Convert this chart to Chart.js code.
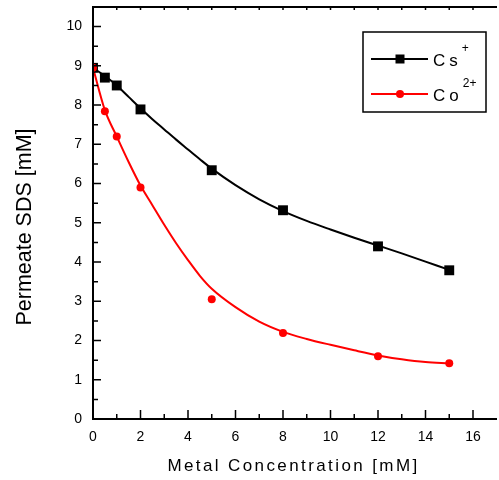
<!DOCTYPE html>
<html>
<head>
<meta charset="utf-8">
<script src="https://cdn.jsdelivr.net/npm/chart.js@4"></script>
<style>
  html, body { margin: 0; padding: 0; background: #fff; overflow: hidden; }
</style>
</head>
<body>
<canvas id="myChart" width="499" height="480"></canvas>
<script>
// measured points
var xVals = [0, 0.5, 1, 2, 5, 8, 12, 15];
var csVals = [8.95, 8.70, 8.50, 7.89, 6.34, 5.32, 4.40, 3.79];
var coVals = [8.95, 7.84, 7.20, 5.90, 3.05, 2.19, 1.60, 1.42];

// fitted curves
var fitX = [0, 0.5, 1, 1.5, 2, 2.5, 3, 3.5, 4, 4.5, 5, 6, 7, 8, 9, 10, 11, 12, 13, 14, 15];
var csFit = [8.95, 8.74, 8.50, 8.21, 7.92, 7.64, 7.38, 7.12, 6.87, 6.62, 6.38, 5.96, 5.60, 5.30, 5.05, 4.83, 4.62, 4.42, 4.22, 4.01, 3.80];
var coFit = [8.95, 7.87, 7.20, 6.55, 5.95, 5.45, 4.95, 4.48, 4.05, 3.65, 3.32, 2.85, 2.48, 2.22, 2.04, 1.89, 1.75, 1.62, 1.52, 1.45, 1.42];

var xTicks = [0, 2, 4, 6, 8, 10, 12, 14, 16];
var yTicks = [0, 1, 2, 3, 4, 5, 6, 7, 8, 9, 10];

function pts(xs, ys) {
    return xs.map(function (x, i) { return { x: x, y: ys[i] }; });
}

var fontFamily = '"Liberation Sans", Arial, sans-serif';

var framePlugin = {
    id: 'frame',
    afterDraw: function (chart) {
        var ctx = chart.ctx;
        var a = chart.chartArea;
        var xs = chart.scales.x, ys = chart.scales.y;
        ctx.save();
        ctx.strokeStyle = '#000';
        ctx.lineWidth = 2;
        ctx.lineCap = 'butt';
        // left, bottom, top lines
        ctx.beginPath();
        ctx.moveTo(a.left, a.top);
        ctx.lineTo(a.left, a.bottom);
        ctx.moveTo(a.left - 1, a.bottom);
        ctx.lineTo(a.right + 5, a.bottom);
        ctx.moveTo(a.left - 1, a.top);
        ctx.lineTo(a.right + 5, a.top);
        ctx.stroke();

        ctx.lineWidth = 1.5;
        ctx.beginPath();
        // y ticks (inward)
        yTicks.forEach(function (v, i) {
            var p = ys.getPixelForValue(v);
            ctx.moveTo(a.left, p); ctx.lineTo(a.left + 8, p);
            var m = ys.getPixelForValue(v + 0.5);
            if (m > a.top) { ctx.moveTo(a.left, m); ctx.lineTo(a.left + 5, m); }
        });
        // x ticks bottom (inward) and top
        xTicks.forEach(function (v) {
            var p = xs.getPixelForValue(v);
            ctx.moveTo(p, a.bottom); ctx.lineTo(p, a.bottom - 9);
            var m = xs.getPixelForValue(v + 1);
            if (m < a.right) { ctx.moveTo(m, a.bottom); ctx.lineTo(m, a.bottom - 5); }
            ctx.moveTo(p, a.top); ctx.lineTo(p, a.top + 3);
            if (m < a.right) { ctx.moveTo(m, a.top); ctx.lineTo(m, a.top + 3); }
        });
        ctx.stroke();

        // axis titles
        ctx.fillStyle = '#000';
        ctx.textAlign = 'center';
        ctx.textBaseline = 'middle';
        ctx.font = '17px ' + fontFamily;
        if ('letterSpacing' in ctx) ctx.letterSpacing = '2.4px';
        ctx.fillText('Metal Concentration [mM]', (a.left + a.right) / 2 + 1, 466);
        if ('letterSpacing' in ctx) ctx.letterSpacing = '0px';
        ctx.save();
        ctx.translate(25, 227);
        ctx.rotate(-Math.PI / 2);
        ctx.font = '21.5px ' + fontFamily;
        ctx.fillText('Permeate SDS [mM]', 0, 0);
        ctx.restore();

        // legend
        ctx.lineWidth = 1.5;
        ctx.strokeRect(363, 32, 123, 80);
        var rows = [
            { y: 59, color: '#000', style: 'rect', main: 'Cs', sup: '+' },
            { y: 94, color: '#ff0000', style: 'circle', main: 'Co', sup: '2+' }
        ];
        rows.forEach(function (r) {
            ctx.strokeStyle = r.color;
            ctx.fillStyle = r.color;
            ctx.lineWidth = 2;
            ctx.beginPath();
            ctx.moveTo(371, r.y); ctx.lineTo(428, r.y);
            ctx.stroke();
            if (r.style === 'rect') {
                ctx.fillRect(395.5, r.y - 4.5, 9, 9);
            } else {
                ctx.beginPath();
                ctx.arc(400, r.y, 4, 0, Math.PI * 2);
                ctx.fill();
            }
            ctx.fillStyle = '#000';
            ctx.textAlign = 'left';
            ctx.textBaseline = 'alphabetic';
            ctx.font = '17px ' + fontFamily;
            if ('letterSpacing' in ctx) ctx.letterSpacing = '4px';
            ctx.fillText(r.main, 433, r.y + 7);
            var w = ctx.measureText(r.main).width;
            ctx.font = '12px ' + fontFamily;
            if ('letterSpacing' in ctx) ctx.letterSpacing = '0px';
            ctx.fillText(r.sup, 433 + w, r.y - 7);
        });
        ctx.restore();
    }
};

var ctx = document.getElementById('myChart').getContext('2d');
var myChart = new Chart(ctx, {
    type: 'scatter',
    data: {
        datasets: [
            {
                label: 'Co2+',
                data: pts(xVals, coVals),
                showLine: false,
                pointStyle: 'circle',
                pointRadius: 4,
                backgroundColor: '#ff0000',
                borderColor: '#ff0000',
                borderWidth: 0,
                order: 0
            },
            {
                label: 'Cs+',
                data: pts(xVals, csVals),
                showLine: false,
                pointStyle: 'rect',
                pointRadius: 7,
                backgroundColor: '#000',
                borderColor: '#000',
                borderWidth: 0,
                order: 1
            },
            {
                label: 'Co2+ fit',
                data: pts(fitX, coFit),
                showLine: true,
                pointRadius: 0,
                borderColor: '#ff0000',
                borderWidth: 2,
                cubicInterpolationMode: 'monotone',
                order: 2
            },
            {
                label: 'Cs+ fit',
                data: pts(fitX, csFit),
                showLine: true,
                pointRadius: 0,
                borderColor: '#000',
                borderWidth: 2,
                cubicInterpolationMode: 'monotone',
                order: 3
            }
        ]
    },
    options: {
        responsive: false,
        animation: false,
        devicePixelRatio: 1,
        layout: { padding: { top: 6, right: 0, left: 0, bottom: 0 } },
        plugins: {
            legend: { display: false },
            tooltip: { enabled: false }
        },
        scales: {
            x: {
                type: 'linear',
                min: 0,
                max: 16.8,
                grid: { display: false, drawTicks: false },
                border: { display: false },
                afterBuildTicks: function (s) { s.ticks = xTicks.map(function (v) { return { value: v }; }); },
                afterFit: function (s) {
                    s.height = 61;
                    s.paddingLeft = 0; s.paddingRight = 0;
                },
                ticks: {
                    padding: 10,
                    maxRotation: 0,
                    color: '#000',
                    font: { family: fontFamily, size: 14 }
                }
            },
            y: {
                type: 'linear',
                min: 0,
                max: 10.5,
                grid: { display: false, drawTicks: false },
                border: { display: false },
                afterBuildTicks: function (s) { s.ticks = yTicks.map(function (v) { return { value: v }; }); },
                afterFit: function (s) {
                    s.width = 93;
                    s.paddingTop = 0; s.paddingBottom = 0;
                },
                ticks: {
                    padding: 11,
                    color: '#000',
                    font: { family: fontFamily, size: 14 }
                }
            }
        }
    },
    plugins: [framePlugin]
});
</script>
</body>
</html>
